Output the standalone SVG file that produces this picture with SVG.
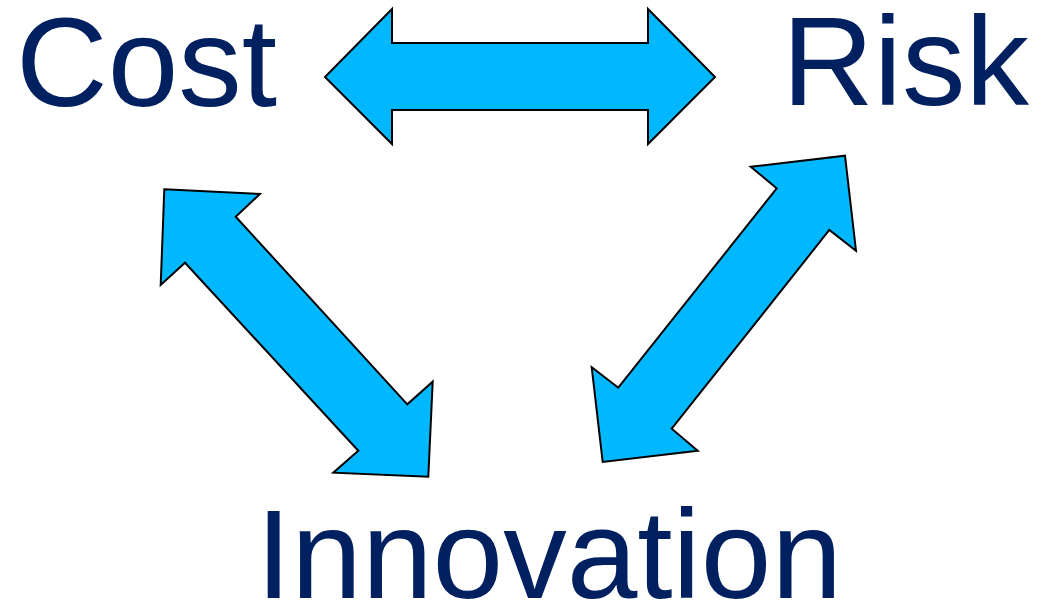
<svg xmlns="http://www.w3.org/2000/svg" width="1039" height="608" viewBox="0 0 1039 608">
<style>
.lbl{font-family:"Liberation Sans",Arial,sans-serif;font-size:127px;fill:#002060}
.arr{fill:#00B8FF;stroke:#000;stroke-width:2;stroke-linejoin:miter}
</style>
<rect width="1039" height="608" fill="#fff"/>
<g id="connectors">
<polygon class="arr" points="325,77 392,9 392,43 648,43 648,9 715,77 648,144 648,110 392,110 392,144"/>
<polygon class="arr" points="164.3,189.3 260,194 235.7,216.7 407.3,404.3 432.7,381.7 428.3,476.7 333.3,472.7 358.3,450.7 185,262.7 160.7,285"/>
<polygon class="arr" points="845,155.7 856,250.7 829.3,230 671.7,428.7 697.7,450.7 602.7,462 591.7,367.3 618.3,387.7 776.7,188.3 750.7,166.7"/>
</g>
<g id="cost"><text class="lbl" x="16" y="106">Cost</text></g>
<g id="risk"><text class="lbl" x="782" y="105">Risk</text></g>
<g id="innovation"><text class="lbl" x="256" y="598">Innovation</text></g>
</svg>
